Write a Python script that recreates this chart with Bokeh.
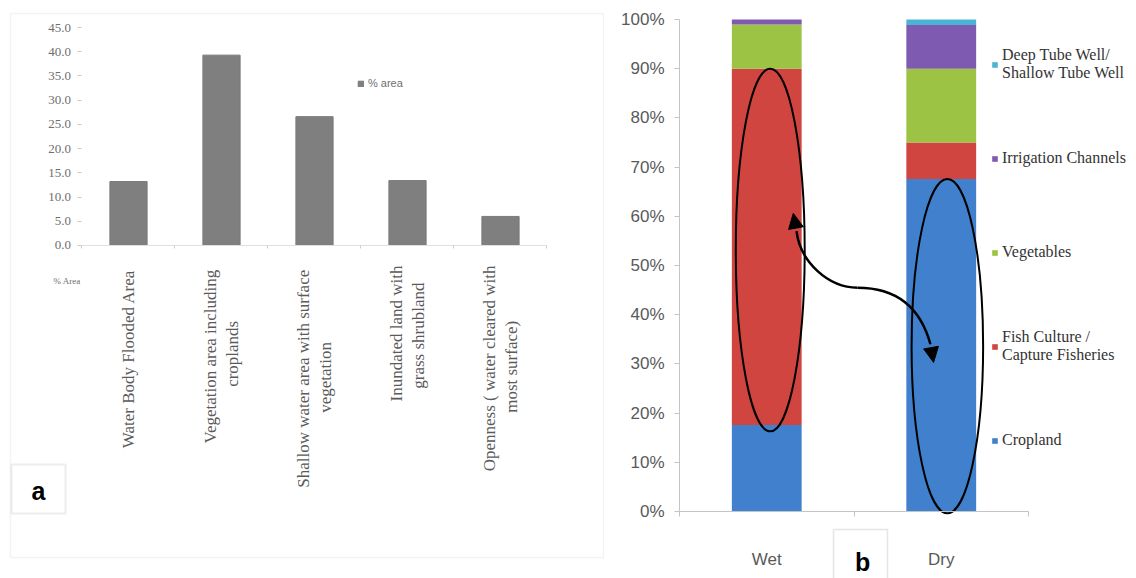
import math
from bokeh.plotting import figure
from bokeh.layouts import row
from bokeh.models import (Range1d, FixedTicker, PrintfTickFormatter, NumeralTickFormatter,
                          Legend, LegendItem, Label, BoxAnnotation, Arrow, NormalHead,
                          ColumnDataSource, LinearAxis)
from bokeh.embed import file_html
from bokeh.resources import INLINE

# ---------------- data: panel a ----------------
area_categories = [
    "Water Body  Flooded Area",
    "Vegetation area  including\ncroplands",
    "Shallow water  area with surface\nvegetation",
    "Inundated land with\ngrass shrubland",
    "Openness ( water cleared with\nmost surface)",
]
area_pct = [13.2, 39.3, 26.6, 13.4, 6.0]
area_ticks = [0, 5, 10, 15, 20, 25, 30, 35, 40, 45]
area_series = "% area"
area_table_label = "% Area"

# ---------------- data: panel b ----------------
seasons = ["Wet", "Dry"]
land_uses = ["Cropland", "Fish Culture /\nCapture Fisheries", "Vegetables",
             "Irrigation Channels", "Deep Tube Well/\nShallow Tube Well"]
cropland = [17.6, 67.6]
fish_culture = [72.4, 7.4]
vegetables = [9.0, 15.0]
irrigation = [1.0, 8.9]
tube_well = [0.0, 1.1]
pct_ticks = [0, 10, 20, 30, 40, 50, 60, 70, 80, 90, 100]
colors_b = ["#4080CC", "#D0453F", "#9CC343", "#7E5AB0", "#4BB4D4"]

SERIF = "Liberation Serif"
SANS = "Liberation Sans"

# second lines of the rotated category labels are centred under the first line
# (the axis right-aligns lines, so pad the shorter line with trailing spaces)
line2_pad = [0, 13, 18, 4, 13]


def centred(label, pad):
    if "\n" not in label:
        return label
    first, second = label.split("\n")
    return first + "\n" + second + " " * pad


# ================= panel a =================
n = len(area_categories)
xa = [i + 0.5 for i in range(n)]
pa = figure(width=604, height=578, output_backend="svg", toolbar_location=None,
            x_range=Range1d(-0.8763, 5.6183), y_range=Range1d(-68.75, 50.58),
            x_axis_location=None, y_axis_location=None,
            min_border_left=0, min_border_right=0, min_border_top=0, min_border_bottom=0)
pa.grid.visible = False
pa.outline_line_color = None
pa.background_fill_color = "white"
pa.border_fill_color = "white"

# chart-area border of panel a
pa.add_layout(BoxAnnotation(left=-0.7688, right=5.6075, top=47.89, bottom=-64.41,
                            fill_alpha=0, line_color="#d6d6d6", line_width=1.5))

bars_a = pa.vbar(x=xa, top=area_pct, width=0.4, fill_color="#7f7f7f", line_color="#7a7a7a")

ya = LinearAxis(fixed_location=0, bounds=(0, 45), ticker=FixedTicker(ticks=area_ticks),
                formatter=NumeralTickFormatter(format="0.0"))
ya.axis_line_alpha = 0
ya.major_tick_out = 4
ya.major_tick_in = 0
ya.minor_tick_out = 0
ya.major_tick_line_color = "#c8c8c8"
ya.major_label_text_font = SERIF
ya.major_label_text_font_size = "13px"
ya.major_label_text_color = "#6e6e6e"
ya.major_label_standoff = 7
pa.add_layout(ya, "left")

xa_axis = LinearAxis(fixed_location=0, bounds=(0, n),
                     ticker=FixedTicker(ticks=xa, minor_ticks=list(range(n + 1))),
                     major_label_overrides={x: centred(c, p)
                                            for x, c, p in zip(xa, area_categories, line2_pad)})
xa_axis.axis_line_color = "#e0e0e0"
xa_axis.major_tick_out = 0
xa_axis.major_tick_in = 0
xa_axis.minor_tick_out = 3
xa_axis.minor_tick_in = 0
xa_axis.minor_tick_line_color = "#cfcfcf"
xa_axis.major_label_orientation = math.pi / 2
xa_axis.major_label_text_font = SERIF
xa_axis.major_label_text_font_size = "17px"
xa_axis.major_label_text_color = "#5a5a5a"
xa_axis.major_label_standoff = 17
pa.add_layout(xa_axis, "below")

leg_a = Legend(items=[LegendItem(label=area_series, renderers=[bars_a])],
               location=(357, 489), orientation="vertical",
               glyph_width=7, glyph_height=7, label_height=7, label_standoff=4,
               padding=0, margin=0, border_line_alpha=0, background_fill_alpha=0,
               label_text_font=SANS, label_text_font_size="11px", label_text_color="#6e6e6e")
pa.add_layout(leg_a)

pa.add_layout(Label(x=-0.306, y=-7.23, text=area_table_label, text_font=SERIF,
                    text_font_size="9px", text_color="#6e6e6e", text_baseline="middle"))
pa.add_layout(BoxAnnotation(left=-0.758, right=-0.177, top=-45.21, bottom=-55.33,
                            fill_alpha=0, line_color="#c4c4c4", line_width=2))
pa.add_layout(Label(x=-0.468, y=-50.6, text="a", text_font=SANS,
                    text_font_style="bold", text_font_size="25px", text_color="black",
                    text_align="center", text_baseline="middle"))

# ================= panel b =================
xb = [i + 0.5 for i in range(len(seasons))]
src = ColumnDataSource(dict(x=xb, cropland=cropland, fish=fish_culture, veg=vegetables,
                            irr=irrigation, tube=tube_well))
pb = figure(width=532, height=578, output_backend="svg", toolbar_location=None,
            x_range=Range1d(-0.4298, 2.6189), y_range=Range1d(-13.62, 103.86),
            x_axis_location=None, y_axis_location=None,
            min_border_left=0, min_border_right=0, min_border_top=0, min_border_bottom=0)
pb.grid.visible = False
pb.outline_line_color = None
pb.background_fill_color = "white"
pb.border_fill_color = "white"

stack_keys = ["cropland", "fish", "veg", "irr", "tube"]
rs = pb.vbar_stack(stack_keys, x="x", width=0.4, color=colors_b, source=src, line_width=0)

yb = LinearAxis(fixed_location=0, bounds=(0, 100), ticker=FixedTicker(ticks=pct_ticks),
                formatter=PrintfTickFormatter(format="%d%%"))
yb.axis_line_color = "#c4c4c4"
yb.major_tick_out = 5
yb.major_tick_in = 0
yb.minor_tick_out = 0
yb.major_tick_line_color = "#c4c4c4"
yb.major_label_text_font = SANS
yb.major_label_text_font_size = "17px"
yb.major_label_text_color = "#595959"
yb.major_label_standoff = 10
pb.add_layout(yb, "left")

xb_axis = LinearAxis(fixed_location=0, bounds=(0, len(seasons)),
                     ticker=FixedTicker(ticks=xb, minor_ticks=list(range(len(seasons) + 1))),
                     major_label_overrides={x: s for x, s in zip(xb, seasons)})
xb_axis.axis_line_color = "#c4c4c4"
xb_axis.major_tick_out = 0
xb_axis.major_tick_in = 0
xb_axis.minor_tick_out = 5
xb_axis.minor_tick_in = 0
xb_axis.minor_tick_line_color = "#c4c4c4"
xb_axis.major_label_text_font = SANS
xb_axis.major_label_text_font_size = "17px"
xb_axis.major_label_text_color = "#595959"
xb_axis.major_label_standoff = 34
pb.add_layout(xb_axis, "below")

# highlight ellipses around the Wet fish-culture block and Dry cropland block
wet_lo, wet_hi = cropland[0] - 1.3, cropland[0] + fish_culture[0]
dry_lo, dry_hi = -0.4, cropland[1]
pb.ellipse(x=[xb[0] + 0.02, xb[1] + 0.035], y=[(wet_lo + wet_hi) / 2, (dry_lo + dry_hi) / 2],
           width=[0.395, 0.41], height=[wet_hi - wet_lo, dry_hi - dry_lo],
           fill_alpha=0, line_color="black", line_width=2)

# double-headed curved arrow between the two highlighted blocks
arrow_p0 = (0.6705, 57.0)
arrow_c1 = (0.693, 50.6)
arrow_c2 = (0.854, 45.5)
arrow_mid = (1.020, 45.5)
arrow_c3 = (1.198, 45.5)
arrow_c4 = (1.370, 42.9)
arrow_p1 = (1.438, 34.0)
pb.bezier(x0=[arrow_p0[0], arrow_mid[0]], y0=[arrow_p0[1], arrow_mid[1]],
          x1=[arrow_mid[0], arrow_p1[0]], y1=[arrow_mid[1], arrow_p1[1]],
          cx0=[arrow_c1[0], arrow_c3[0]], cy0=[arrow_c1[1], arrow_c3[1]],
          cx1=[arrow_c2[0], arrow_c4[0]], cy1=[arrow_c2[1], arrow_c4[1]],
          line_color="black", line_width=2.5)
pb.add_layout(Arrow(end=NormalHead(size=15, fill_color="black", line_color="black"),
                    x_start=arrow_p0[0], y_start=arrow_p0[1], x_end=0.652, y_end=60.6,
                    line_alpha=0))
pb.add_layout(Arrow(end=NormalHead(size=15, fill_color="black", line_color="black"),
                    x_start=arrow_p1[0], y_start=arrow_p1[1], x_end=1.456, y_end=30.3,
                    line_alpha=0))

items_b = [LegendItem(label=lab, renderers=[r]) for lab, r in zip(land_uses, rs)][::-1]
leg_b = Legend(items=items_b, location=(387, 113), orientation="vertical",
               glyph_width=7, glyph_height=7, label_height=50, label_standoff=4, spacing=44,
               padding=0, margin=0, border_line_alpha=0, background_fill_alpha=0,
               label_text_font=SERIF, label_text_font_size="16px", label_text_color="#333333")
pb.add_layout(leg_b)

pb.add_layout(BoxAnnotation(left=0.8825, right=1.192, top=-3.66, bottom=-16,
                            fill_alpha=0, line_color="#a8a8a8", line_width=1.5))
pb.add_layout(Label(x=1.049, y=-10.2, text="b", text_font=SANS,
                    text_font_style="bold", text_font_size="25px", text_color="black",
                    text_align="center", text_baseline="middle"))

layout = row(pa, pb)
open("out.html", "w").write(file_html(layout, INLINE))
